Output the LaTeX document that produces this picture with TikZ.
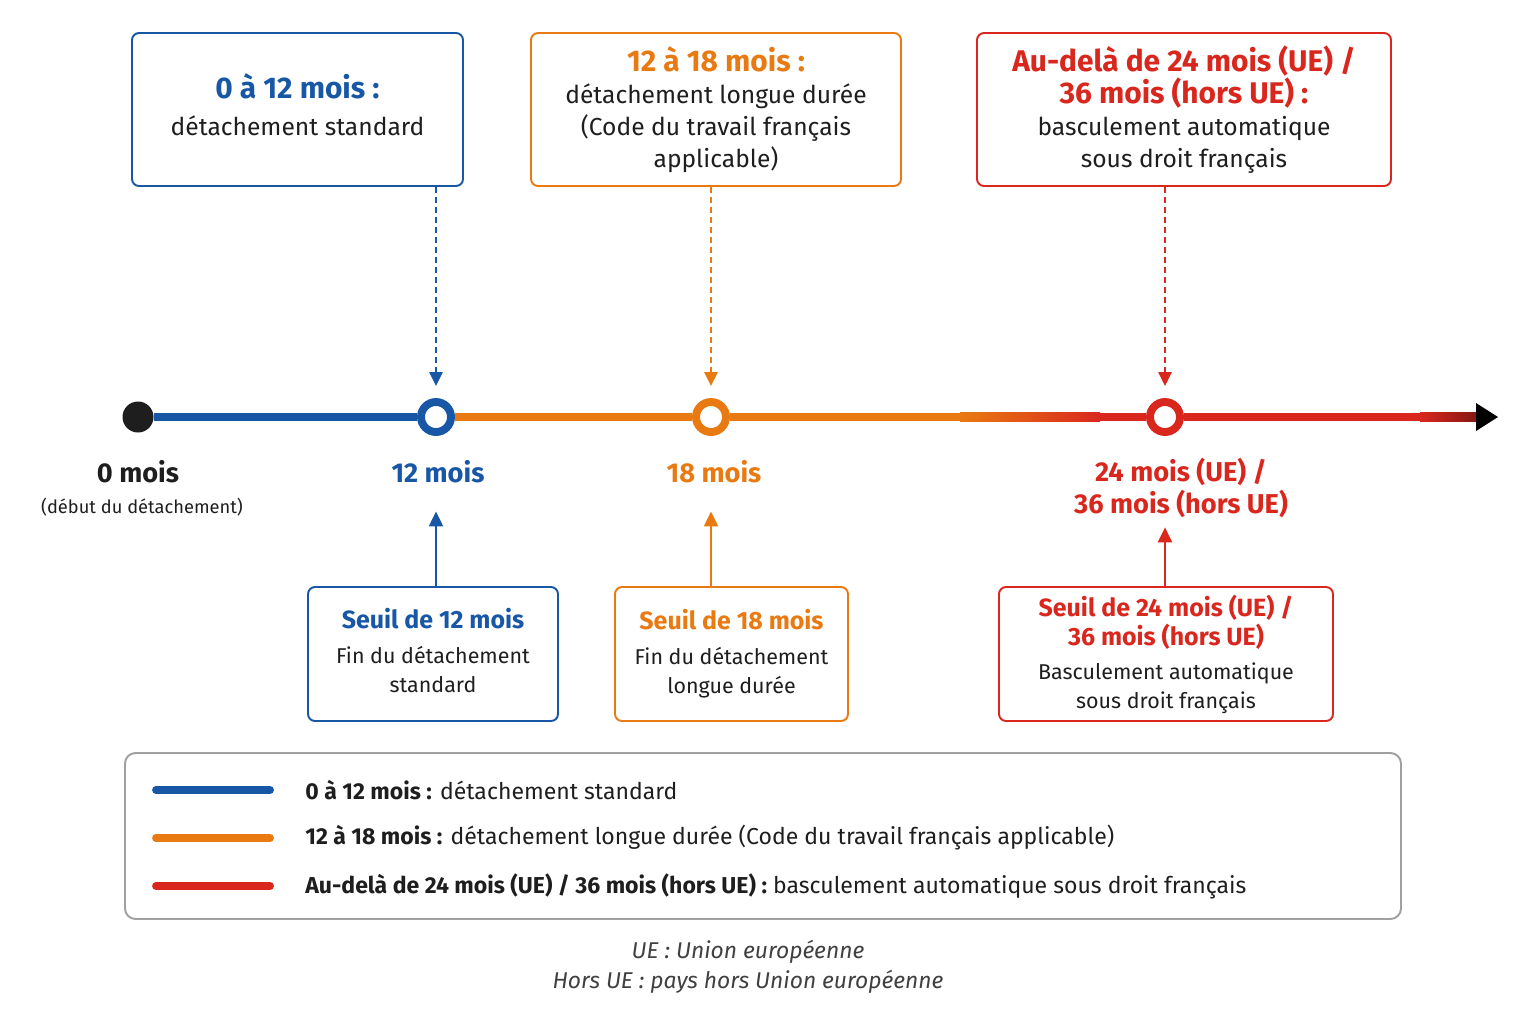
\documentclass[tikz,border=0pt]{standalone}
\usepackage{fontspec}
\setmainfont{Fira Sans}
\usetikzlibrary{arrows.meta,positioning}

\definecolor{bleuD}{HTML}{1757A6}
\definecolor{orangeD}{HTML}{E97A12}
\definecolor{rougeD}{HTML}{D9271E}
\definecolor{grisD}{HTML}{A0A0A0}
\definecolor{texteD}{HTML}{1E1E1E}

\newcommand\titreH{\fontsize{17}{19.5}\selectfont\bfseries}
\newcommand\corpsH{\fontsize{14}{18.3}\selectfont}
\newcommand\titreB{\fontsize{14.2}{16.5}\selectfont\bfseries}
\newcommand\corpsB{\fontsize{12.2}{16.5}\selectfont}

\begin{document}
\begin{tikzpicture}[x=0.2mm,y=-0.2mm, text=texteD,
    topbox/.style={draw=#1, line width=1.1pt, rounded corners=4pt, fill=white, align=center, inner sep=0pt, minimum height=30.6mm, font=\corpsH},
    seuil/.style={draw=#1, line width=1.1pt, rounded corners=4pt, fill=white, align=center, inner sep=0pt, minimum height=26.8mm, font=\corpsB},
    jalon/.style={circle, draw=#1, line width=4.5pt, fill=white, minimum size=6mm, inner sep=0pt},
    pointille/.style={#1, line width=1.4pt, dash pattern=on 1.2mm off 0.8mm, -{Triangle[width=2.6mm,length=2.8mm]}},
    fleche/.style={#1, line width=1.4pt, -{Triangle[width=2.8mm,length=3mm]}},
    axe/.style={line width=5pt}
  ]
  \useasboundingbox (0,0) rectangle (1536,1024);

  % top boxes
  \node[topbox=bleuD, minimum width=66.2mm] (b12) at (297.5,109.5)
    {{\titreH\color{bleuD}0 à 12 mois :}\\[1mm]détachement standard\rule[-2mm]{0pt}{0pt}};
  \node[topbox=orangeD, minimum width=74mm] (b18) at (716,109.5)
    {{\titreH\color{orangeD}12 à 18 mois :}\\détachement longue durée\\(Code du travail français\\applicable)};
  \node[topbox=rougeD, minimum width=82.8mm] (b24) at (1184,109.5)
    {{\titreH\color{rougeD}Au-delà de 24 mois (UE) /}\\{\titreH\color{rougeD}36 mois (hors UE) :}\\basculement automatique\\sous droit français};

  % timeline
  \node[circle, fill=texteD, minimum size=6.2mm, inner sep=0pt] (t0) at (138,417) {};
  \node[jalon=bleuD] (t12) at (436,417) {};
  \node[jalon=orangeD] (t18) at (711,417) {};
  \node[jalon=rougeD] (t24) at (1165,417) {};
  \coordinate (g1) at (960,417);
  \coordinate (g2) at (1100,417);
  \coordinate (g3) at (1420,417);
  \coordinate (fin) at (1478,417);

  \draw[axe, bleuD] (t0) -- (t12);
  \draw[axe, orangeD] (t12) -- (t18);
  \draw[axe, orangeD] (t18) -- (g1);
  \shade[left color=orangeD, right color=rougeD] (960,412.6) rectangle (1100,421.4);
  \draw[axe, rougeD] (g2) -- (t24);
  \draw[axe, rougeD] (t24) -- (g3);
  \shade[left color=rougeD, right color=rougeD!60!black] (1420,412.6) rectangle (1478,421.4);
  \fill[black] (1476,403) -- (1498,417) -- (1476,431) -- cycle;

  % dashed arrows from the top boxes
  \draw[pointille=bleuD, shorten >=2.4mm] (b12.south -| t12) -- (t12);
  \draw[pointille=orangeD, shorten >=2.4mm] (b18.south -| t18) -- (t18);
  \draw[pointille=rougeD, shorten >=2.4mm] (b24.south -| t24) -- (t24);

  % labels under the timeline
  \node[font=\fontsize{15.5}{19}\selectfont\bfseries] (l0) at (138,472) {0 mois};
  \node[font=\fontsize{10.4}{13}\selectfont] (l0b) at (142,507) {(début du détachement)};
  \node[font=\fontsize{15.5}{19}\selectfont\bfseries, text=bleuD] (l12) at (438,472) {12 mois};
  \node[font=\fontsize{15.5}{19}\selectfont\bfseries, text=orangeD] (l18) at (714,472) {18 mois};
  \node[font=\fontsize{15.5}{18.5}\selectfont\bfseries, text=rougeD, align=center] (l24) at (1181,488) {24 mois (UE) /\\36 mois (hors UE)};

  % threshold boxes
  \node[seuil=bleuD, minimum width=50mm] (s12) at (433,654)
    {{\titreB\color{bleuD}Seuil de 12 mois}\\[1.2mm]Fin du détachement\\standard\rule[-1.6mm]{0pt}{0pt}};
  \node[seuil=orangeD, minimum width=46.6mm] (s18) at (731.5,654)
    {{\titreB\color{orangeD}Seuil de 18 mois}\\[1.2mm]Fin du détachement\\longue durée};
  \node[seuil=rougeD, minimum width=66.8mm] (s24) at (1166,654)
    {{\titreB\color{rougeD}Seuil de 24 mois (UE) /}\\{\titreB\color{rougeD}36 mois (hors UE)}\\[1mm]Basculement automatique\\sous droit français};

  % solid arrows up to the labels
  \draw[fleche=bleuD, shorten >=4.4mm] (s12.north -| t12) -- (l12.south -| t12);
  \draw[fleche=orangeD, shorten >=4.4mm] (s18.north -| t18) -- (l18.south -| t18);
  \draw[fleche=rougeD, shorten >=0.6mm] (s24.north -| t24) -- (l24.south -| t24);

  % legend
  \node[draw=grisD, line width=1.1pt, rounded corners=6pt, minimum width=255.2mm, minimum height=33.2mm] (leg) at (763,836) {};
  \draw[bleuD, line width=4.5pt, line cap=round] (156,790) -- (270,790);
  \draw[orangeD, line width=4.5pt, line cap=round] (156,838) -- (270,838);
  \draw[rougeD, line width=4.5pt, line cap=round] (156,886) -- (270,886);
  \node[anchor=west, font=\fontsize{13.1}{16}\selectfont, inner sep=0pt] (leg1) at (305,790) {\textbf{0 à 12 mois :} détachement standard};
  \node[anchor=west, font=\fontsize{13.1}{16}\selectfont, inner sep=0pt] (leg2) at (305,838) {\textbf{12 à 18 mois :} détachement longue durée (Code du travail français applicable)};
  \node[anchor=west, font=\fontsize{13.1}{16}\selectfont, inner sep=0pt] (leg3) at (305,886) {\textbf{Au-delà de 24 mois (UE) / 36 mois (hors UE) :} basculement automatique sous droit français};

  % footnote
  \node[font=\fontsize{13}{17}\selectfont\itshape, align=center, text=texteD!85] (note) at (748,967)
    {UE : Union européenne\\Hors UE : pays hors Union européenne};
\end{tikzpicture}
\end{document}
